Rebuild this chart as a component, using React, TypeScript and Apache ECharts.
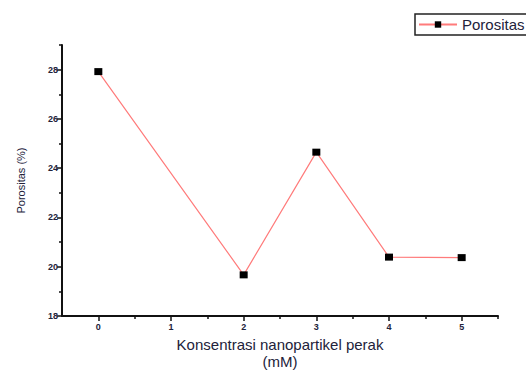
import React, { useEffect, useRef } from "react";
import * as echarts from "echarts";

const xValues = [0, 2, 3, 4, 5];
const porositas = [27.92, 19.67, 24.65, 20.39, 20.37];
const xMajorTicks = [0, 1, 2, 3, 4, 5];
const xMinorTicks = [0.5, 1.5, 2.5, 3.5, 4.5, 5.5];
const yMinorTicks = [19, 21, 23, 25, 27, 29];
const seriesName = "Porositas";
const xTitle = "Konsentrasi nanopartikel perak\n(mM)";
const yTitle = "Porositas (%)";

const FONT = "'Liberation Sans', Arial, sans-serif";
const TEXT = "#22223a";

export default function App() {
  const ref = useRef<HTMLDivElement>(null);
  useEffect(() => {
    if (!ref.current) return;
    const chart = echarts.init(ref.current, null, { renderer: "svg" });
    const axisLine = { show: true, onZero: false, lineStyle: { color: "#111", width: 2 } };
    chart.setOption({
      animation: false,
      backgroundColor: "#fff",
      textStyle: { fontFamily: FONT },
      legend: {
        left: 415,
        top: 14,
        padding: [3, 4, 3, 3],
        borderColor: "#222",
        borderWidth: 1.5,
        itemWidth: 38,
        itemHeight: 8,
        itemGap: 4,
        textStyle: { fontSize: 15, color: TEXT, fontFamily: FONT },
        data: [seriesName],
      },
      grid: { left: 62, right: 28, top: 45, bottom: 54, outerBoundsMode: "none", containLabel: false },
      xAxis: [
        {
          type: "value",
          min: -0.5,
          max: 5.5,
          axisLine,
          splitLine: { show: false },
          axisTick: {
            show: true,
            customValues: xMajorTicks,
            length: 5,
            lineStyle: { color: "#111", width: 1.5 },
          },
          axisLabel: {
            customValues: xMajorTicks,
            fontSize: 9,
            fontWeight: "bold",
            color: TEXT,
            margin: 6,
            fontFamily: FONT,
          },
          name: xTitle,
          nameLocation: "middle",
          nameGap: 17,
          nameTextStyle: { fontSize: 15, color: TEXT, lineHeight: 17, fontFamily: FONT },
        },
        {
          type: "value",
          min: -0.5,
          max: 5.5,
          position: "bottom",
          axisLine: { show: false, onZero: false },
          splitLine: { show: false },
          axisTick: {
            show: true,
            customValues: xMinorTicks,
            length: 3,
            lineStyle: { color: "#111", width: 1.5 },
          },
          axisLabel: { show: false },
        },
      ],
      yAxis: [
        {
          type: "value",
          min: 18,
          max: 29,
          interval: 2,
          axisLine,
          splitLine: { show: false },
          axisTick: { show: true, length: 5, lineStyle: { color: "#111", width: 1.5 } },
          axisLabel: {
            fontSize: 9,
            fontWeight: "bold",
            color: TEXT,
            margin: 4,
            fontFamily: FONT,
            showMaxLabel: false,
            formatter: (v: number) => (v % 2 === 0 ? String(v) : ""),
          },
          name: yTitle,
          nameLocation: "middle",
          nameGap: 36,
          nameRotate: 90,
          nameTextStyle: { fontSize: 11, color: TEXT, fontFamily: FONT },
        },
        {
          type: "value",
          min: 18,
          max: 29,
          position: "left",
          axisLine: { show: false, onZero: false },
          splitLine: { show: false },
          axisTick: {
            show: true,
            customValues: yMinorTicks,
            length: 3,
            lineStyle: { color: "#111", width: 1.5 },
          },
          axisLabel: { show: false },
        },
      ],
      series: [
        {
          name: seriesName,
          type: "line",
          data: xValues.map((x, i) => [x, porositas[i]]),
          symbol: "rect",
          symbolSize: [8, 7],
          itemStyle: { color: "#000" },
          lineStyle: { color: "#ff7b7b", width: 1.2 },
        },
      ],
    });
    return () => chart.dispose();
  }, []);
  return <div ref={ref} style={{ width: 526, height: 370, position: "fixed", left: 0, top: 0 }} />;
}
